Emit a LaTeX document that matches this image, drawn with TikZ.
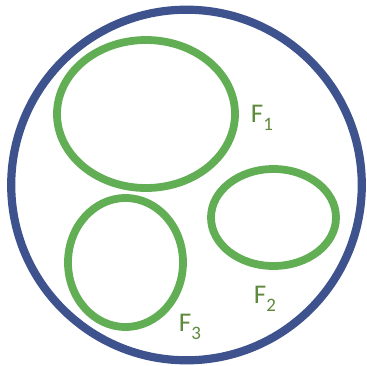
\documentclass[tikz,border=0pt]{standalone}
\usepackage{fontspec}
\setmainfont{Carlito}
\usepackage{tikz}
\definecolor{azul}{HTML}{3E528E}
\definecolor{verde}{HTML}{62AE55}
\definecolor{verdetexto}{HTML}{5E8A3C}
\newcommand{\familiaF}[1]{F\raisebox{-0.28em}{\fontsize{19}{19}\selectfont #1}}

\begin{document}
\begin{tikzpicture}[x=1pt,y=-1pt,
  borde/.style={color=azul,line width=8.2pt},
  conjunto/.style={color=verde,line width=7.8pt},
  etiqueta/.style={color=verdetexto,font=\fontsize{27}{32}\selectfont,inner sep=0pt}]
  \useasboundingbox (0,0) rectangle (367,365);
  \draw[borde] (186.5,185) circle[radius=175.3];

  \draw[conjunto] (146,114) ellipse[x radius=89,y radius=74];
  \draw[conjunto] (273.5,217.5) ellipse[x radius=62.5,y radius=48.5];
  \draw[conjunto] (125.5,262.5) ellipse[x radius=57.5,y radius=64.5];

  \node[etiqueta] (f1) at (262,118) {\familiaF{1}};
  \node[etiqueta] (f2) at (265,299) {\familiaF{2}};
  \node[etiqueta] (f3) at (190,327) {\familiaF{3}};
\end{tikzpicture}
\end{document}
